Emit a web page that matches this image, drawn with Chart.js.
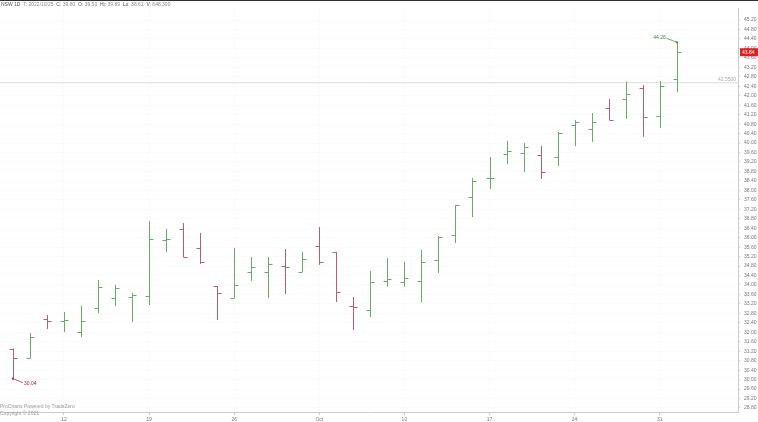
<!DOCTYPE html>
<html>
<head>
<meta charset="utf-8">
<script src="https://cdn.jsdelivr.net/npm/chart.js@4.4.0/dist/chart.umd.min.js"></script>
<style>
  body { margin: 0; background: #fff; font-family: "Liberation Sans", Arial, sans-serif; }
  #wrap { position: relative; width: 758px; height: 422px; }
  #topbar { position: absolute; left: 0; top: 0; width: 758px; height: 1px; background: #333; }
  #head { position: absolute; left: 1px; top: 1px; font-size: 5px; color: #888; }
  #head b { color: #555; font-weight: normal; }
  #foot { position: absolute; left: 0; top: 403px; font-size: 5px; color: #999; line-height: 7px; }
</style>
</head>
<body>
<div id="wrap">
  <canvas id="c" width="758" height="422"></canvas>
  <div id="topbar"></div>
  <div id="head"><b>NSW 1D</b> &nbsp;T: 2022/10/25 &nbsp;<b>C:</b> 39.80 &nbsp;<b>O:</b> 39.50 &nbsp;<b>Hi:</b> 39.89 &nbsp;<b>Lo:</b> 38.61 &nbsp;<b>V:</b> 648,300</div>
  <div id="foot">ProCharts Powered by TradeZero<br>Copyright © 2021</div>
</div>
<script>
// trading days Sep 7 .. Nov 1 2022
const dates = ["09-07","09-08","09-09","09-12","09-13","09-14","09-15","09-16","09-19","09-20",
  "09-21","09-22","09-23","09-26","09-27","09-28","09-29","09-30","10-03","10-04",
  "10-05","10-06","10-07","10-10","10-11","10-12","10-13","10-14","10-17","10-18",
  "10-19","10-20","10-21","10-24","10-25","10-26","10-27","10-28","10-31","11-01"];
const opens  = [31.30,30.91,32.56,32.48,32.01,33.03,33.45,33.49,33.53,35.90,
  36.37,35.56,33.96,33.45,34.55,34.55,34.80,34.55,35.65,35.40,
  33.11,32.94,34.17,34.13,34.17,35.06,36.11,37.72,38.52,39.54,
  39.58,39.50,39.41,40.76,40.60,41.48,41.86,42.33,41.14,42.70];
const highs  = [31.32,31.97,32.73,32.86,33.11,34.21,34.00,33.66,36.70,36.37,
  36.62,36.20,33.96,35.56,35.18,35.18,35.52,35.40,36.45,35.40,
  33.49,34.59,35.14,34.97,35.48,36.07,37.38,38.52,39.41,40.09,
  40.00,39.87,40.47,40.97,41.27,41.86,42.60,42.45,42.62,44.26];
const lows   = [30.04,30.91,32.14,32.01,31.80,32.82,33.11,32.44,33.15,35.40,
  35.18,34.89,32.52,33.45,34.17,33.45,33.62,34.55,34.85,33.28,
  32.10,32.65,33.92,33.92,33.28,34.51,35.77,36.87,38.06,39.11,
  38.78,38.48,39.03,39.87,40.05,40.97,41.02,40.26,40.64,42.16];
const closes = [30.91,31.80,32.48,32.50,32.48,33.92,33.87,33.58,35.94,35.94,
  35.18,34.97,33.66,34.00,34.76,34.89,34.76,35.10,34.97,33.70,
  33.09,34.13,34.25,34.30,34.97,36.03,37.38,38.40,38.54,39.66,
  39.83,38.78,40.42,40.89,40.89,40.97,42.07,41.10,42.41,43.84];
const yTicks = [28.8,29.2,29.6,30.0,30.4,30.8,31.2,31.6,32.0,32.4,32.8,33.2,33.6,34.0,34.4,34.8,
  35.2,35.6,36.0,36.4,36.8,37.2,37.6,38.0,38.4,38.8,39.2,39.6,40.0,40.4,40.8,41.2,41.6,42.0,
  42.4,42.8,43.2,43.6,44.0,44.4,44.8,45.2];
const xTickIdx = [3,8,13,18,23,28,33,38];
const xTickText = ["12","19","26","Oct","10","17","24","31"];
const refLine = 42.55;

const UP = "#6aa86a", DOWN = "#b0606e";

const ohlcPlugin = {
  id: "ohlc",
  afterDatasetsDraw(chart) {
    const { ctx, scales: { x, y }, chartArea: a } = chart;
    ctx.save();
    ctx.beginPath(); ctx.rect(a.left, a.top, a.right - a.left, a.bottom - a.top); ctx.clip();
    // reference line
    ctx.strokeStyle = "#dcdcdc"; ctx.lineWidth = 1;
    ctx.beginPath(); ctx.moveTo(a.left, y.getPixelForValue(refLine)); ctx.lineTo(a.right, y.getPixelForValue(refLine)); ctx.stroke();
    ctx.font = "5px 'Liberation Sans'"; ctx.fillStyle = "#aaa"; ctx.textAlign = "right";
    ctx.fillText(refLine.toFixed(4), a.right - 2, y.getPixelForValue(refLine) - 2);
    ctx.lineWidth = 1;
    dates.forEach((d, i) => {
      const px = Math.round(x.getPixelForValue(i)) + 0.5;
      ctx.strokeStyle = closes[i] >= opens[i] ? UP : DOWN;
      ctx.beginPath();
      ctx.moveTo(px, y.getPixelForValue(highs[i])); ctx.lineTo(px, y.getPixelForValue(lows[i]));
      const yo = Math.round(y.getPixelForValue(opens[i])) + 0.5, yc = Math.round(y.getPixelForValue(closes[i])) + 0.5;
      ctx.moveTo(px - 4, yo); ctx.lineTo(px, yo);
      ctx.moveTo(px, yc); ctx.lineTo(px + 4, yc);
      ctx.stroke();
    });
    // high / low markers
    const hi = highs.length - 1, lo = 0;
    const hx = x.getPixelForValue(hi), hy = y.getPixelForValue(highs[hi]);
    ctx.fillStyle = "#3d8a3d"; ctx.strokeStyle = UP;
    ctx.fillRect(hx - 1, hy - 1, 2, 2);
    ctx.beginPath(); ctx.moveTo(hx, hy); ctx.lineTo(hx - 10, hy - 4); ctx.stroke();
    ctx.textAlign = "right"; ctx.fillText(highs[hi].toFixed(2), hx - 11, hy - 3);
    const lx = x.getPixelForValue(lo), ly = y.getPixelForValue(lows[lo]);
    ctx.fillStyle = "#a02030"; ctx.strokeStyle = DOWN;
    ctx.fillRect(lx - 1, ly - 1, 2, 2);
    ctx.beginPath(); ctx.moveTo(lx, ly); ctx.lineTo(lx + 10, ly + 4); ctx.stroke();
    ctx.textAlign = "left"; ctx.fillText(lows[lo].toFixed(2), lx + 11, ly + 6);
    ctx.restore();
    // last price tag
    const cy = y.getPixelForValue(closes[hi]);
    ctx.fillStyle = "#e02020";
    ctx.fillRect(a.right + 2, cy - 4, 18, 8);
    ctx.fillStyle = "#fff"; ctx.font = "5px 'Liberation Sans'"; ctx.textAlign = "left";
    ctx.fillText(closes[hi].toFixed(2), a.right + 4, cy + 2);
  }
};

new Chart(document.getElementById("c"), {
  type: "line",
  data: { datasets: [{ data: closes.map((v, i) => ({ x: i, y: v })), showLine: false, pointRadius: 0 }] },
  options: {
    responsive: false,
    animation: false,
    layout: { padding: { top: 8, left: 0, right: 0, bottom: 0 } },
    plugins: { legend: { display: false }, tooltip: { enabled: false } },
    scales: {
      x: {
        type: "linear", min: -0.76, max: 42.6,
        afterBuildTicks: s => { s.ticks = xTickIdx.map(v => ({ value: v })); },
        ticks: { callback: (v) => xTickText[xTickIdx.indexOf(v)], font: { size: 5 }, color: "#777", padding: 2, maxRotation: 0 },
        grid: { color: "#fafafa", tickLength: 3, tickColor: "#ccc" },
        border: { color: "#ccc" },
        afterFit: s => { s.height = 10; }
      },
      y: {
        position: "right", min: 28.63, max: 45.71,
        afterBuildTicks: s => { s.ticks = yTicks.map(v => ({ value: v })); },
        ticks: { callback: v => v.toFixed(2), font: { size: 5 }, color: "#777", padding: 4 },
        grid: { color: "#fafafa", tickLength: 2, tickColor: "#ccc" },
        border: { color: "#ccc" },
        afterFit: s => { s.width = 20; }
      }
    }
  },
  plugins: [ohlcPlugin]
});
</script>
</body>
</html>
